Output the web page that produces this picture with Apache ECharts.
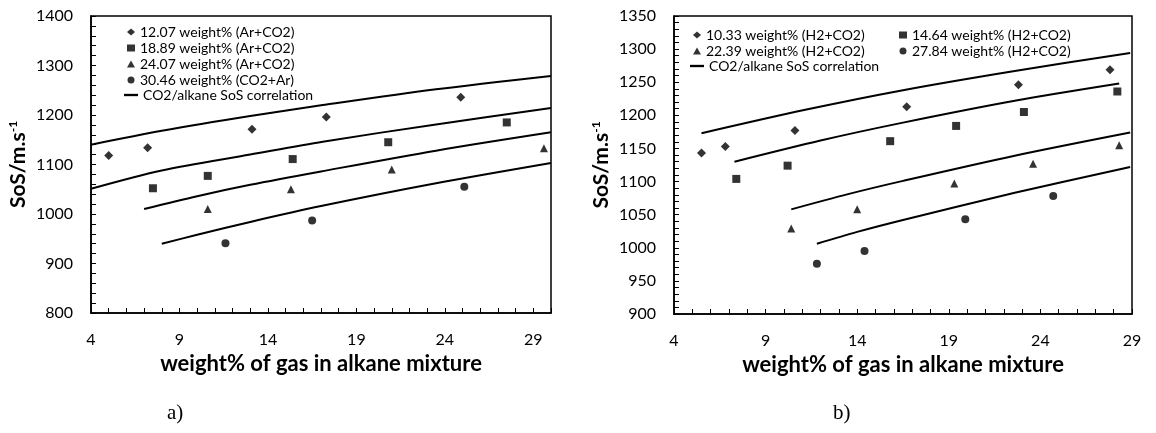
<!DOCTYPE html>
<html>
<head>
<meta charset="utf-8">
<script src="https://cdn.jsdelivr.net/npm/echarts@6/dist/echarts.min.js"></script>
<style>
  html, body { margin: 0; padding: 0; background: #fff; }
  #chart { width: 1156px; height: 433px; }
</style>
</head>
<body>
<div id="chart"></div>
<script>
// ---- panel a) Ar/CO2 mixtures ----
const arDiamond = [[5.0, 1118], [7.2, 1134], [13.1, 1171], [17.3, 1196], [24.9, 1236]];
const arSquare = [[7.5, 1052], [10.6, 1077], [15.4, 1111], [20.8, 1145], [27.5, 1185]];
const arTriangle = [[10.6, 1010], [15.3, 1050], [21.0, 1090], [29.6, 1133]];
const arCircle = [[11.6, 941], [16.5, 987], [25.1, 1055]];

const arLine1 = [[4, 1140], [8, 1168], [13, 1198], [17.1, 1220], [23.5, 1252], [30, 1279]];
const arLine2 = [[4, 1051], [8, 1088], [13, 1120], [17.1, 1146], [23.5, 1181], [30, 1214]];
const arLine3 = [[7, 1010], [10, 1036], [13, 1059], [17, 1086], [23.5, 1128], [30, 1165]];
const arLine4 = [[8, 940], [10, 958], [13, 984], [17, 1016], [23.5, 1062], [30, 1103]];

// ---- panel b) H2/CO2 mixtures ----
const h2Diamond = [[5.5, 1143], [6.8, 1153], [10.6, 1177], [16.7, 1213], [22.8, 1246], [27.8, 1269]];
const h2Square = [[7.4, 1104], [10.2, 1124], [15.8, 1161], [19.4, 1184], [23.1, 1205], [28.2, 1236]];
const h2Triangle = [[10.4, 1029], [14.0, 1058], [19.3, 1097], [23.6, 1127], [28.3, 1155]];
const h2Circle = [[11.8, 976], [14.4, 995], [19.9, 1043], [24.7, 1078]];

const h2Line1 = [[5.5, 1173], [11.1, 1208], [16.5, 1238], [22.6, 1267], [28.9, 1294]];
const h2Line2 = [[7.3, 1130], [12, 1162], [16.5, 1189], [22.6, 1222], [28.3, 1248]];
const h2Line3 = [[10.4, 1058], [13.5, 1081], [16.5, 1101], [22.6, 1139], [28.9, 1174]];
const h2Line4 = [[11.8, 1006], [14, 1024], [16.5, 1042], [22.6, 1083], [28.9, 1122]];

const seriesNamesA = ['12.07 weight% (Ar+CO2)', '18.89 weight% (Ar+CO2)', '24.07 weight% (Ar+CO2)', '30.46 weight% (CO2+Ar)'];
const seriesNamesB = ['10.33 weight% (H2+CO2)', '14.64 weight% (H2+CO2)', '22.39 weight% (H2+CO2)', '27.84 weight% (H2+CO2)'];
const corrName = 'CO2/alkane SoS correlation';

const xTitle = 'weight% of gas in alkane mixture';
const font = 'Lato, "Open Sans", sans-serif';

const chart = echarts.init(document.getElementById('chart'));

function xAxisCfg(gridIndex, max) {
    return {
        type: 'value', gridIndex, min: 4, max, interval: 1,
        name: xTitle, nameLocation: 'middle', nameGap: 40,
        nameTextStyle: { color: '#000', fontSize: 22, fontWeight: 'bold', fontFamily: font },
        axisLine: { lineStyle: { color: '#000', width: 1.5 } },
        axisTick: { inside: true, length: 5, lineStyle: { color: '#000' } },
        axisLabel: {
            color: '#000', fontSize: 16, fontFamily: font, margin: 19,
            formatter: v => ((v - 4) % 5 === 0 ? String(v) : '')
        },
        splitLine: { show: false }
    };
}

function yAxisCfg(gridIndex, min, max, interval) {
    return {
        type: 'value', gridIndex, min, max, interval,
        name: '{m|SoS/m.s}{s|-1}', nameLocation: 'middle', nameGap: 62,
        nameTextStyle: {
            color: '#000', fontFamily: font,
            rich: {
                m: { fontSize: 21, fontWeight: 'bold', fontFamily: font, color: '#000' },
                s: { fontSize: 12, fontWeight: 'bold', fontFamily: font, color: '#000', verticalAlign: 'top', padding: [0, 0, 10, 0] }
            }
        },
        axisLine: { lineStyle: { color: '#000', width: 1.5 } },
        axisTick: { inside: true, length: 5, lineStyle: { color: '#000' } },
        minorTick: { show: true, splitNumber: 5, length: 5, lineStyle: { color: '#000' } },
        axisLabel: { color: '#000', fontSize: 16, fontFamily: font, margin: 18, formatter: v => String(v) },
        splitLine: { show: false }
    };
}

function scatter(name, symbol, data, idx) {
    return {
        name, type: 'scatter', symbol, symbolSize: symbol === 'diamond' ? 9 : 8,
        xAxisIndex: idx, yAxisIndex: idx, data,
        itemStyle: { color: '#000' }
    };
}

function curve(data, idx) {
    return {
        name: corrName, type: 'line', symbol: 'none', smooth: 0.3,
        xAxisIndex: idx, yAxisIndex: idx, data,
        itemStyle: { color: '#000' },
        lineStyle: { color: '#000', width: 2 }
    };
}

const legendText = { color: '#000', fontSize: 14, fontFamily: font };
const lineIcon = 'path://M0,0h12v2h-12z';

function markerLegend(left, top, names) {
    return {
        orient: 'vertical', left, top, padding: 0, itemWidth: 8, itemHeight: 7, itemGap: 2,
        textStyle: legendText, data: names
    };
}

function lineLegend(left, top) {
    return {
        orient: 'vertical', left, top, padding: 0, itemWidth: 14, itemHeight: 7, itemGap: 2,
        textStyle: legendText,
        data: [{ name: corrName, icon: lineIcon, itemStyle: { color: '#000' } }]
    };
}

const option = {
    backgroundColor: '#fff',
    animation: false,
    title: [
        { text: 'a)', left: 162, top: 398, textStyle: { fontFamily: 'Liberation Serif', fontSize: 21, fontWeight: 'normal', color: '#000' } },
        { text: 'b)', left: 828, top: 398, textStyle: { fontFamily: 'Liberation Serif', fontSize: 21, fontWeight: 'normal', color: '#000' } }
    ],
    grid: [
        { left: 91, top: 16, width: 460, height: 297, show: true, borderColor: '#000', borderWidth: 1.5, backgroundColor: 'transparent' },
        { left: 674, top: 16, width: 458, height: 298, show: true, borderColor: '#000', borderWidth: 1.5, backgroundColor: 'transparent' }
    ],
    legend: [
        markerLegend(127, 25, seriesNamesA),
        lineLegend(124, 88),
        markerLegend(693, 28, [seriesNamesB[0], seriesNamesB[2]]),
        lineLegend(690, 59),
        markerLegend(899, 28, [seriesNamesB[1], seriesNamesB[3]])
    ],
    xAxis: [xAxisCfg(0, 30), xAxisCfg(1, 29)],
    yAxis: [yAxisCfg(0, 800, 1400, 100), yAxisCfg(1, 900, 1350, 50)],
    series: [
        scatter(seriesNamesA[0], 'diamond', arDiamond, 0),
        scatter(seriesNamesA[1], 'rect', arSquare, 0),
        scatter(seriesNamesA[2], 'triangle', arTriangle, 0),
        scatter(seriesNamesA[3], 'circle', arCircle, 0),
        curve(arLine1, 0), curve(arLine2, 0), curve(arLine3, 0), curve(arLine4, 0),
        scatter(seriesNamesB[0], 'diamond', h2Diamond, 1),
        scatter(seriesNamesB[1], 'rect', h2Square, 1),
        scatter(seriesNamesB[2], 'triangle', h2Triangle, 1),
        scatter(seriesNamesB[3], 'circle', h2Circle, 1),
        curve(h2Line1, 1), curve(h2Line2, 1), curve(h2Line3, 1), curve(h2Line4, 1)
    ]
};

chart.setOption(option);
</script>
</body>
</html>
